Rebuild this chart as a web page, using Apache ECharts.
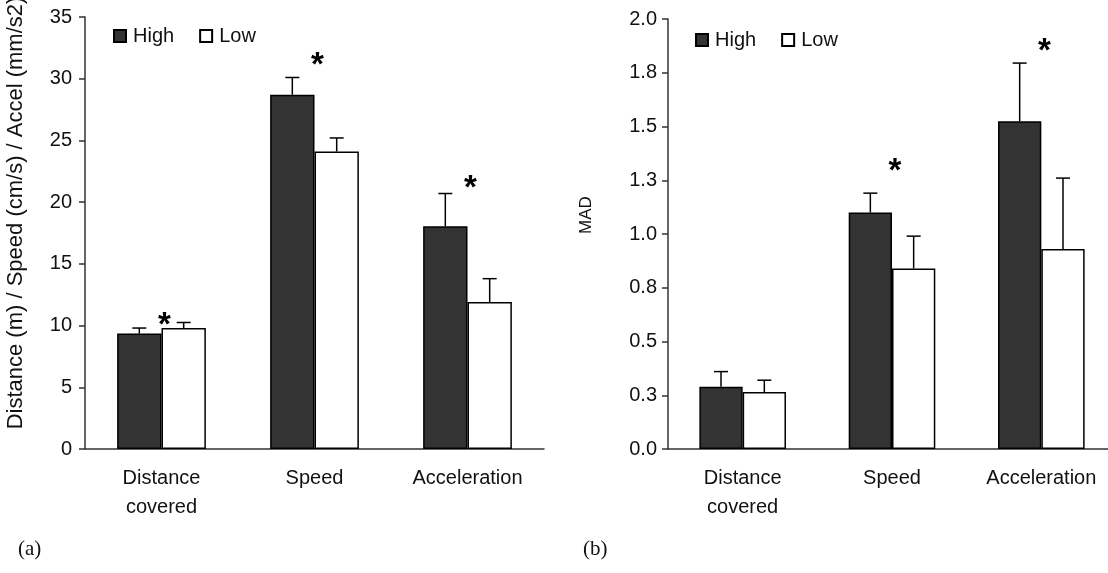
<!DOCTYPE html>
<html>
<head>
<meta charset="utf-8">
<script src="https://cdn.jsdelivr.net/npm/echarts@6/dist/echarts.min.js"></script>
<style>
  html, body { margin: 0; padding: 0; background: #fff; }
  #chart { width: 1108px; height: 573px; }
</style>
</head>
<body>
<div id="chart"></div>
<script>
// categories
var categories = ['Distance\ncovered', 'Speed', 'Acceleration'];

// panel (a): distance / speed / accel
var aHigh = [9.35, 28.7, 18.05];
var aHighErr = [0.45, 1.4, 2.65];
var aLow = [9.8, 24.1, 11.9];
var aLowErr = [0.45, 1.1, 1.9];
var aStars = [[0, 10.7], [1, 31.8], [2, 21.8]];

// panel (b): MAD
var bHigh = [0.29, 1.10, 1.525];
var bHighErr = [0.07, 0.09, 0.27];
var bLow = [0.265, 0.84, 0.93];
var bLowErr = [0.055, 0.15, 0.33];
var bStars = [[1, 1.33], [2, 1.89]];

var FONT = 'Liberation Sans, Arial, sans-serif';
var TXT = '#111';

function errData(mean, err) {
    return mean.map(function (m, i) { return [i, m, m + err[i]]; });
}

// side: -1 for High bar, +1 for Low bar
function errorRender(side) {
    return function (params, api) {
        var cat = api.value(0);
        var band = api.size([1, 0])[0];
        var p0 = api.coord([cat, api.value(1)]);
        var p1 = api.coord([cat, api.value(2)]);
        var x = p0[0] + side * band * 0.145;
        var cap = 7;
        var st = { stroke: '#000', lineWidth: 1.5 };
        return {
            type: 'group',
            children: [
                { type: 'line', shape: { x1: x, y1: p0[1], x2: x, y2: p1[1] }, style: st },
                { type: 'line', shape: { x1: x - cap, y1: p1[1], x2: x + cap, y2: p1[1] }, style: st }
            ]
        };
    };
}

function starRender(params, api) {
    var p = api.coord([api.value(0), api.value(1)]);
    return {
        type: 'text',
        x: p[0] + 3,
        y: p[1] + 9,
        style: {
            text: '*',
            font: 'bold 33px ' + FONT,
            fill: '#000',
            align: 'center',
            verticalAlign: 'middle'
        }
    };
}

var highStyle = { color: '#333333', borderColor: '#000', borderWidth: 1.5 };
var lowStyle = { color: '#ffffff', borderColor: '#000', borderWidth: 1.5 };

function xAxisCfg(gi) {
    return {
        type: 'category',
        gridIndex: gi,
        data: categories,
        axisLine: { lineStyle: { color: '#333', width: 1.5 } },
        axisTick: { length: 7, lineStyle: { color: '#333', width: 1.5 } },
        axisLabel: { color: TXT, fontSize: 20, fontFamily: FONT, lineHeight: 29, margin: 15, interval: 0 }
    };
}

var chart = echarts.init(document.getElementById('chart'));

var option = {
    animation: false,
    backgroundColor: '#fff',
    grid: [
        { left: 85, top: 17, width: 459, bottom: 124, outerBoundsMode: 'none' },
        { left: 668, top: 19, right: -8, bottom: 124, outerBoundsMode: 'none' }
    ],
    legend: [
        {
            data: ['High', 'Low'],
            left: 108, top: 21,
            icon: 'rect', itemWidth: 12, itemHeight: 12, itemGap: 25,
            textStyle: { color: TXT, fontSize: 20, fontFamily: FONT, padding: [0, 0, 0, 2] }
        },
        {
            data: ['High', 'Low'],
            left: 690, top: 25,
            icon: 'rect', itemWidth: 12, itemHeight: 12, itemGap: 25,
            textStyle: { color: TXT, fontSize: 20, fontFamily: FONT, padding: [0, 0, 0, 2] }
        }
    ],
    xAxis: [xAxisCfg(0), xAxisCfg(1)],
    yAxis: [
        {
            type: 'value',
            gridIndex: 0,
            min: 0, max: 35, interval: 5,
            name: 'Distance (m) / Speed (cm/s) / Accel (mm/s2)',
            nameLocation: 'middle',
            nameGap: 58,
            nameTextStyle: { color: TXT, fontSize: 22, fontFamily: FONT, padding: [0, 0, 0, 40] },
            splitLine: { show: false },
            axisLine: { show: true, lineStyle: { color: '#333', width: 1.5 } },
            axisTick: { show: true, length: 6, lineStyle: { color: '#333', width: 1.5 } },
            axisLabel: { color: TXT, fontSize: 20, fontFamily: FONT, margin: 13 }
        },
        {
            type: 'value',
            gridIndex: 1,
            min: 0, max: 2, interval: 0.25,
            name: 'MAD',
            nameLocation: 'middle',
            nameGap: 73,
            nameTextStyle: { color: TXT, fontSize: 17, fontFamily: FONT, padding: [0, 0, 0, 38] },
            splitLine: { show: false },
            axisLine: { show: true, lineStyle: { color: '#333', width: 1.5 } },
            axisTick: { show: true, length: 6, lineStyle: { color: '#333', width: 1.5 } },
            axisLabel: {
                color: TXT, fontSize: 20, fontFamily: FONT, margin: 11,
                formatter: function (v) { return v.toFixed(1); }
            }
        }
    ],
    series: [
        { name: 'High', type: 'bar', xAxisIndex: 0, yAxisIndex: 0, data: aHigh, barGap: '0%', barCategoryGap: '42%', itemStyle: highStyle },
        { name: 'Low', type: 'bar', xAxisIndex: 0, yAxisIndex: 0, data: aLow, itemStyle: lowStyle },
        { name: 'High', type: 'bar', xAxisIndex: 1, yAxisIndex: 1, data: bHigh, barGap: '0%', barCategoryGap: '42%', itemStyle: highStyle },
        { name: 'Low', type: 'bar', xAxisIndex: 1, yAxisIndex: 1, data: bLow, itemStyle: lowStyle },

        { type: 'custom', xAxisIndex: 0, yAxisIndex: 0, z: 5, renderItem: errorRender(-1), data: errData(aHigh, aHighErr) },
        { type: 'custom', xAxisIndex: 0, yAxisIndex: 0, z: 5, renderItem: errorRender(1), data: errData(aLow, aLowErr) },
        { type: 'custom', xAxisIndex: 1, yAxisIndex: 1, z: 5, renderItem: errorRender(-1), data: errData(bHigh, bHighErr) },
        { type: 'custom', xAxisIndex: 1, yAxisIndex: 1, z: 5, renderItem: errorRender(1), data: errData(bLow, bLowErr) },

        { type: 'custom', xAxisIndex: 0, yAxisIndex: 0, z: 6, renderItem: starRender, data: aStars },
        { type: 'custom', xAxisIndex: 1, yAxisIndex: 1, z: 6, renderItem: starRender, data: bStars }
    ],
    graphic: [
        { type: 'text', left: 18, top: 539, style: { text: '(a)', font: '21px Liberation Serif, Times New Roman, serif', fill: '#111' } },
        { type: 'text', left: 583, top: 539, style: { text: '(b)', font: '21px Liberation Serif, Times New Roman, serif', fill: '#111' } }
    ]
};

option && chart.setOption(option);
</script>
</body>
</html>
